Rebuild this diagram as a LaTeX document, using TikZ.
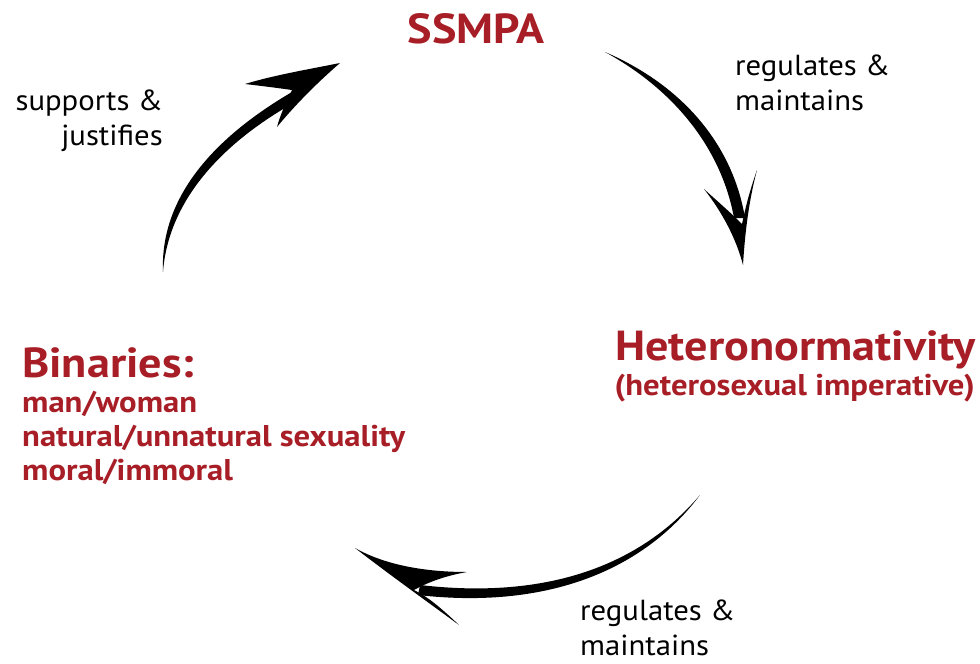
\documentclass[tikz,border=0pt]{standalone}
\usepackage{fontspec}
\setmainfont{PT Sans}
\newfontfamily\bigfont{PT Sans}[FakeStretch=1.1]
\newfontfamily\subfont{PT Sans}[FakeStretch=1.09]
\newfontfamily\lblfont{PT Sans}[FakeStretch=1.06]
\definecolor{ssred}{RGB}{168,30,38}
\begin{document}
\begin{tikzpicture}[x=1pt,y=-1pt,
  big/.style={inner sep=0pt,text=ssred,font=\bigfont\fontsize{42}{42}\selectfont\bfseries},
  sub/.style={inner sep=0pt,text=ssred,font=\subfont\fontsize{30}{34}\selectfont\bfseries,align=left},
  lbl/.style={inner sep=0pt,text=black,font=\lblfont\fontsize{29}{34.5}\selectfont},
  brush/.style={fill=black,draw=none}]
\useasboundingbox (0,0) rectangle (980,664);

% texts (multi-line nodes: base anchor = baseline of last line)
\node[big,anchor=base] (ssmpa) at (476,43) {SSMPA};
\node[big,anchor=base east] (hetero) at (976,360) {Heteronormativity};
\node[sub,anchor=base east] (heterosub) at (975,395) {(heterosexual imperative)};
\node[big,anchor=base west] (bin) at (22,377) {Binaries:};
\node[sub,anchor=base west] (binsub) at (22,480) {man/woman\\natural/unnatural sexuality\\moral/immoral};
\node[lbl,anchor=base east,align=right] (l1) at (163,145) {supports \&\\justifies};
\node[lbl,anchor=base west,align=left] (l2) at (735,110) {regulates \&\\maintains};
\node[lbl,anchor=base west,align=left] (l3) at (580,655) {regulates \&\\maintains};

% arrow 1: SSMPA -> Heteronormativity
\coordinate (a1s) at (605,52);
\coordinate (a1t) at (743,265);
\fill[brush] (a1s) .. controls (684,86) and (733,146) .. (745,218)
  -- (734,218) .. controls (722,152) and (678,92) .. (a1s) -- cycle;
\fill[brush] (a1t) .. controls (745,232) and (749,200) .. (757,170)
  .. controls (750,190) and (746,205) .. (742,224)
  .. controls (730,212) and (716,200) .. (704,189)
  .. controls (722,212) and (736,238) .. (a1t) -- cycle;

% arrow 2: Heteronormativity -> Binaries
\coordinate (a2s) at (700,495);
\coordinate (a2t) at (355,548);
\fill[brush] (a2s) .. controls (640,575) and (540,609) .. (418,595)
  -- (420,585) .. controls (540,599) and (636,570) .. (a2s) -- cycle;
\fill[brush] (a2t) .. controls (390,575) and (425,600) .. (459,625)
  .. controls (440,607) and (428,597) .. (414,590)
  .. controls (432,580) and (450,575) .. (467,572)
  .. controls (425,572) and (385,565) .. (a2t) -- cycle;

% arrow 3: Binaries -> SSMPA
\coordinate (a3s) at (163,272);
\coordinate (a3t) at (340,63);
\fill[brush] (a3s) .. controls (160,200) and (210,140) .. (292,92)
  -- (297,101) .. controls (216,146) and (168,205) .. (a3s) -- cycle;
\fill[brush] (a3t) .. controls (305,70) and (275,75) .. (245,84)
  .. controls (262,86) and (278,88) .. (292,90)
  .. controls (285,104) and (280,116) .. (277,127)
  .. controls (295,105) and (318,82) .. (a3t) -- cycle;
\end{tikzpicture}
\end{document}
